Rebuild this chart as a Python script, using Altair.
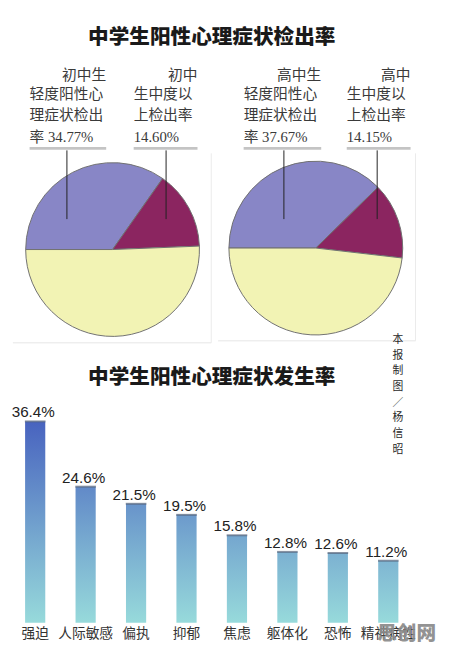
import math
import altair as alt
import pandas as pd

# ---------------- data ----------------
title_top = "中学生阳性心理症状检出率"
title_bottom = "中学生阳性心理症状发生率"

groups = ["初中", "高中"]
mild_rates = [34.77, 37.67]          # 轻度阳性心理症状检出率 (%)
moderate_rates = [14.60, 14.15]      # 中度以上检出率 (%)
parts = ["轻度阳性", "中度以上", "其他"]
part_colors = ["#8886c6", "#8b2560", "#f2f3b4"]

symptoms = ["强迫", "人际敏感", "偏执", "抑郁", "焦虑", "躯体化", "恐怖", "精神病性"]
rates = [36.4, 24.6, 21.5, 19.5, 15.8, 12.8, 12.6, 11.2]

credit = "本报制图／杨信昭"
watermark = "思创网"

# ---------------- helpers ----------------
OX, OY = 8, 8
def X(v):
    return v - OX
def Y(v):
    return v - OY

CJK = "Noto Sans CJK SC"
ANN_FONT = "Liberation Serif, Noto Sans CJK SC"
one = alt.Data(values=[{"a": 1}])

def label(text, x, y, size=15, align="left", font=ANN_FONT, weight="normal",
          color="#3a3a3a", baseline="middle", **kw):
    return alt.Chart(one).mark_text(
        text=text, align=align, baseline=baseline, font=font, fontSize=size,
        fontWeight=weight, color=color, **kw
    ).encode(x=alt.value(X(x)), y=alt.value(Y(y)))

def hrule(x1, x2, y, color="#c4c4c4", width=3):
    return alt.Chart(one).mark_rule(color=color, strokeWidth=width).encode(
        x=alt.value(X(x1)), x2=alt.value(X(x2)), y=alt.value(Y(y)))

def vrule(x, y1, y2, color="#222222", width=1):
    return alt.Chart(one).mark_rule(color=color, strokeWidth=width).encode(
        x=alt.value(X(x)), y=alt.value(Y(y1)), y2=alt.value(Y(y2)))

layers = []

# titles
layers.append(label(title_top, 215.5, 33, size=21, align="center", font=CJK, weight=900, color="#1a1a1a"))
layers.append(label(title_bottom, 215.5, 379, size=21, align="center", font=CJK, weight=900, color="#1a1a1a"))

# faint frames around the pies
for (xl, xr, yb) in [(13, 215, 343), (222, 423, 341)]:
    layers.append(hrule(xl, xr, yb, color="#e6e6e6", width=1))
    layers.append(vrule(xr, 150, yb, color="#ebebeb", width=1))

# pies
theta_scale = alt.Scale(domain=[0, 100], range=[1.5 * math.pi, 3.5 * math.pi])
color_scale = alt.Scale(domain=parts, range=part_colors)
pie_centers = [(114.5, 248), (321.5, 246.5)]
for g, m, d, (cx, cy) in zip(groups, mild_rates, moderate_rates, pie_centers):
    df = pd.DataFrame({
        "part": parts,
        "value": [m, d, round(100 - m - d, 2)],
        "idx": [0, 1, 2],
    })
    layers.append(
        alt.Chart(df).mark_arc(radius=88.5, stroke="#707070", strokeWidth=1).encode(
            theta=alt.Theta("value:Q", stack=True, scale=theta_scale),
            color=alt.Color("part:N", scale=color_scale, legend=None),
            order=alt.Order("idx:Q"),
            x=alt.value(X(cx)),
            y=alt.value(Y(cy)),
        )
    )

# pie annotations
ann_blocks = [
    ([groups[0] + "生", "轻度阳性心", "理症状检出", f"率 {mild_rates[0]:.2f}%"], 30, 108, 68),
    ([groups[0], "生中度以", "上检出率", f"{moderate_rates[0]:.2f}%"], 136, 201, 169),
    ([groups[1] + "生", "轻度阳性心", "理症状检出", f"率 {mild_rates[1]:.2f}%"], 248, 327, 289),
    ([groups[1], "生中度以", "上检出率", f"{moderate_rates[1]:.2f}%"], 353, 418, 384),
]
line_y = [70, 90, 111, 133]
for lines, xl, xr, xlead in ann_blocks:
    layers.append(label(lines[0], xr, line_y[0], align="right"))
    for t, yy in zip(lines[1:], line_y[1:]):
        layers.append(label(t, xl, yy))
    layers.append(hrule(xl, xr, 145))
    layers.append(vrule(xlead, 147, 217))

# bars
bars_df = pd.DataFrame({"symptom": symptoms, "rate": rates})
x_scale = alt.Scale(domain=symptoms, range=[X(10), X(421)], paddingInner=0.6, paddingOuter=0.3)
y_scale = alt.Scale(domain=[0, 40], range=[Y(628), Y(628) - 40 * 5.63])
vmax = max(rates)
for s, v in zip(symptoms, rates):
    grad = alt.LinearGradient(
        gradient="linear", x1=0, x2=0, y1=1 - vmax / v, y2=1,
        stops=[alt.GradientStop(offset=0, color="#4863bf"),
               alt.GradientStop(offset=1, color="#97dadb")],
    )
    layers.append(
        alt.Chart(bars_df).transform_filter(alt.datum.symptom == s).mark_bar(color=grad).encode(
            x=alt.X("symptom:N", scale=x_scale, axis=None),
            y=alt.Y("rate:Q", scale=y_scale, axis=None),
        )
    )

layers.append(
    alt.Chart(bars_df).mark_tick(orient="horizontal", size=21, thickness=2, color="#56647a").encode(
        x=alt.X("symptom:N", scale=x_scale, axis=None),
        y=alt.Y("rate:Q", scale=y_scale, axis=None),
    )
)

layers.append(
    alt.Chart(bars_df).transform_calculate(lbl="format(datum.rate, '.1f') + '%'").mark_text(
        baseline="alphabetic", align="center", dy=-4, dx=-2,
        font="Liberation Sans", fontSize=15.5, color="#222222",
    ).encode(
        x=alt.X("symptom:N", scale=x_scale, axis=None),
        y=alt.Y("rate:Q", scale=y_scale, axis=None),
        text="lbl:N",
    )
)

layers.append(
    alt.Chart(bars_df).mark_text(
        baseline="middle", align="center", font=ANN_FONT, fontSize=14, color="#333333",
    ).encode(
        x=alt.X("symptom:N", scale=x_scale, axis=None),
        y=alt.value(Y(640)),
        text="symptom:N",
    )
)

# credit (vertical, one character per line)
for i, ch in enumerate(credit):
    layers.append(label(ch, 405, 340 + i * 16, size=11, align="center", font=CJK,
                        color="#2a2a2a"))

# watermark
layers.append(label(watermark, 414, 640, size=20, align="center", font=CJK, weight=900,
                    color="#8a8a8a", opacity=0.92))

chart = alt.layer(*layers).properties(
    width=441, height=649,
    autosize=alt.AutoSizeParams(type="none"),
    padding=0,
).configure_view(stroke=None)

chart.save("out.html", embed_options={"renderer": "svg", "actions": False})
